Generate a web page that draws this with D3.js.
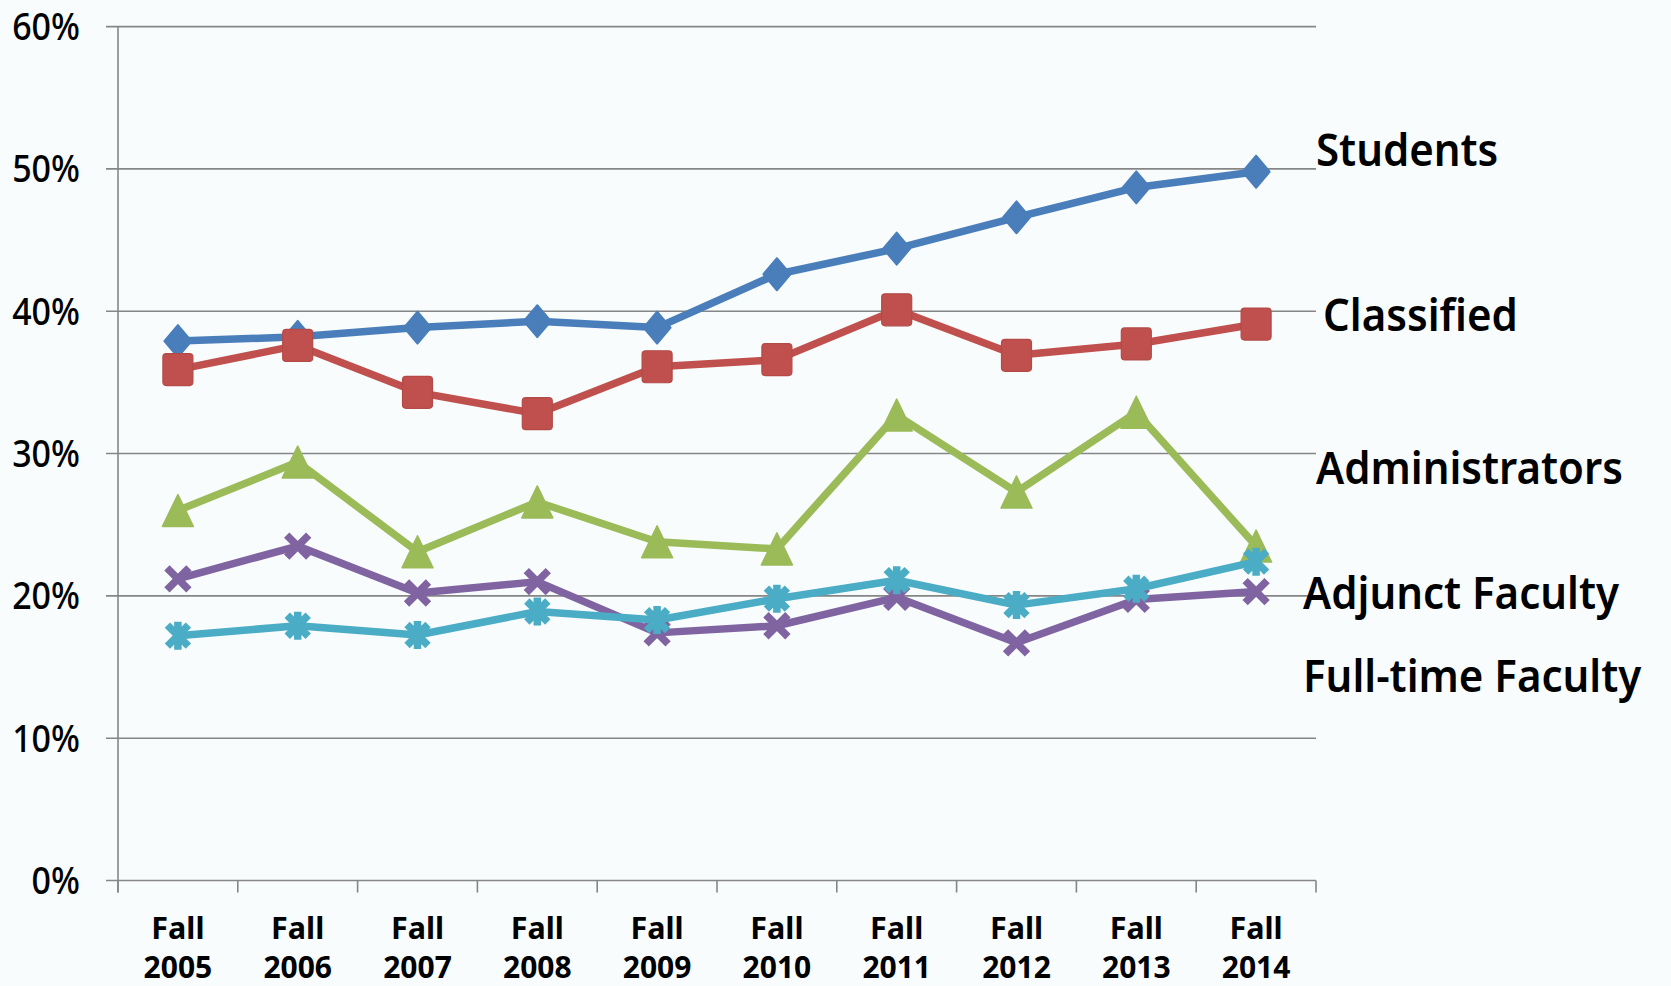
<!DOCTYPE html>
<html>
<head>
<meta charset="utf-8">
<script src="https://cdn.jsdelivr.net/npm/d3@7"></script>
<style>
  html, body { margin: 0; padding: 0; background: #f8fcfc; }
  svg { display: block; }
  text { font-family: "Noto Sans", "Open Sans", sans-serif; fill: #000; }
</style>
</head>
<body>
<svg id="chart" width="1671" height="986"></svg>
<script>
// Share of each campus group, Fall 2005 – Fall 2014 (percent)
const categories = ["2005", "2006", "2007", "2008", "2009", "2010", "2011", "2012", "2013", "2014"];
const students       = [37.9, 38.2, 38.85, 39.3, 38.85, 42.6, 44.4, 46.6, 48.7, 49.8];
const classified     = [35.9, 37.6, 34.3, 32.8, 36.1, 36.6, 40.1, 36.9, 37.7, 39.1];
const administrators = [26.0, 29.4, 23.1, 26.6, 23.8, 23.3, 32.7, 27.3, 32.9, 23.5];
const adjunctFaculty = [21.2, 23.5, 20.2, 21.0, 17.4, 17.9, 19.9, 16.7, 19.75, 20.3];
const fullTimeFaculty= [17.2, 17.9, 17.25, 18.9, 18.3, 19.8, 21.1, 19.35, 20.5, 22.4];
const yTicks = [0, 10, 20, 30, 40, 50, 60];

const seriesList = [
  { name: "Students",          values: students,        color: "#4a7ebb", marker: "diamond" },
  { name: "Classified",        values: classified,      color: "#c0504d", marker: "square" },
  { name: "Administrators",    values: administrators,  color: "#9bbb59", marker: "triangle" },
  { name: "Adjunct Faculty",   values: adjunctFaculty,  color: "#8064a2", marker: "x" },
  { name: "Full-time Faculty", values: fullTimeFaculty, color: "#4bacc6", marker: "star" }
];

// label anchor positions for the series names on the right
const nameLabels = [
  { text: "Students",          x: 1316, y: 166 },
  { text: "Classified",        x: 1323, y: 331 },
  { text: "Administrators",    x: 1316, y: 484 },
  { text: "Adjunct Faculty",   x: 1303, y: 609 },
  { text: "Full-time Faculty", x: 1303, y: 692 }
];

const svg = d3.select("#chart");
const plotLeft = 118, plotRight = 1316, plotTop = 26.6, plotBottom = 880.5;

const x = d3.scaleBand().domain(categories).range([plotLeft, plotRight]);
const y = d3.scaleLinear().domain([0, 60]).range([plotBottom, plotTop]);

const gridColor = "#868686";

// horizontal gridlines
svg.append("g").selectAll("line").data(yTicks).join("line")
  .attr("x1", plotLeft - 12).attr("x2", plotRight)
  .attr("y1", d => y(d)).attr("y2", d => y(d))
  .attr("stroke", gridColor).attr("stroke-width", 1.6);

// y axis line
svg.append("line")
  .attr("x1", plotLeft).attr("x2", plotLeft)
  .attr("y1", plotTop).attr("y2", plotBottom + 12)
  .attr("stroke", gridColor).attr("stroke-width", 1.6);

// x axis tick marks at band boundaries
const boundaries = categories.map(c => x(c)).concat([plotRight]);
svg.append("g").selectAll("line").data(boundaries).join("line")
  .attr("x1", d => d).attr("x2", d => d)
  .attr("y1", plotBottom).attr("y2", plotBottom + 12)
  .attr("stroke", gridColor).attr("stroke-width", 1.6);

// helper: text with an optional vertical stretch
function stretchedText(g, str, tx, ty, opts) {
  return g.append("text")
    .attr("transform", `translate(${tx},${ty}) scale(1,${opts.stretch || 1})`)
    .attr("text-anchor", opts.anchor || "start")
    .style("font-size", opts.size + "px")
    .style("font-weight", opts.weight || "normal")
    .text(str);
}

// y tick labels
const yLab = svg.append("g");
yTicks.forEach(v => {
  stretchedText(yLab, v + "%", 80, y(v) + 13.4, { anchor: "end", size: 34, stretch: 1.1, weight: 500 });
});

// x category labels
const xLab = svg.append("g");
categories.forEach(c => {
  const cx = x(c) + x.bandwidth() / 2;
  stretchedText(xLab, "Fall", cx, 939, { anchor: "middle", size: 30.5, weight: "bold", stretch: 1.02 });
  stretchedText(xLab, c, cx, 978, { anchor: "middle", size: 30, weight: "bold", stretch: 1.0 });
});

// marker shapes
function drawMarker(g, type, color) {
  if (type === "diamond") {
    g.append("path").attr("d", "M0,-16 L13.5,0 L0,16 L-13.5,0 Z")
      .attr("fill", color).attr("stroke", color).attr("stroke-width", 2).attr("stroke-linejoin", "round");
  } else if (type === "square") {
    g.append("rect").attr("x", -15).attr("y", -16).attr("width", 30).attr("height", 32).attr("rx", 3.5)
      .attr("fill", color).attr("stroke", d3.color(color).darker(0.2)).attr("stroke-width", 1.2);
  } else if (type === "triangle") {
    g.append("path").attr("d", "M0,-16 L15.5,16 L-15.5,16 Z")
      .attr("fill", color).attr("stroke", color).attr("stroke-width", 1.5).attr("stroke-linejoin", "round");
  } else if (type === "x") {
    g.append("path").attr("d", "M-11,-11 L11,11 M-11,11 L11,-11")
      .attr("stroke", color).attr("stroke-width", 7.5).attr("fill", "none");
  } else if (type === "star") {
    g.append("path").attr("d", "M-10.5,-10.5 L10.5,10.5 M-10.5,10.5 L10.5,-10.5 M0,-14 L0,14")
      .attr("stroke", color).attr("stroke-width", 7.5).attr("fill", "none");
  }
}

const line = d3.line()
  .x((d, i) => x(categories[i]) + x.bandwidth() / 2)
  .y(d => y(d));

seriesList.forEach(s => {
  const g = svg.append("g");
  g.append("path").datum(s.values)
    .attr("d", line)
    .attr("fill", "none")
    .attr("stroke", s.color)
    .attr("stroke-width", 7.5)
    .attr("stroke-linejoin", "round");
  s.values.forEach((v, i) => {
    const m = g.append("g")
      .attr("transform", `translate(${x(categories[i]) + x.bandwidth() / 2},${y(v)})`);
    drawMarker(m, s.marker, s.color);
  });
});

// series names
const names = svg.append("g");
nameLabels.forEach(l => {
  stretchedText(names, l.text, l.x, l.y, { size: 42, weight: 600, stretch: 1.07 });
});
</script>
</body>
</html>
